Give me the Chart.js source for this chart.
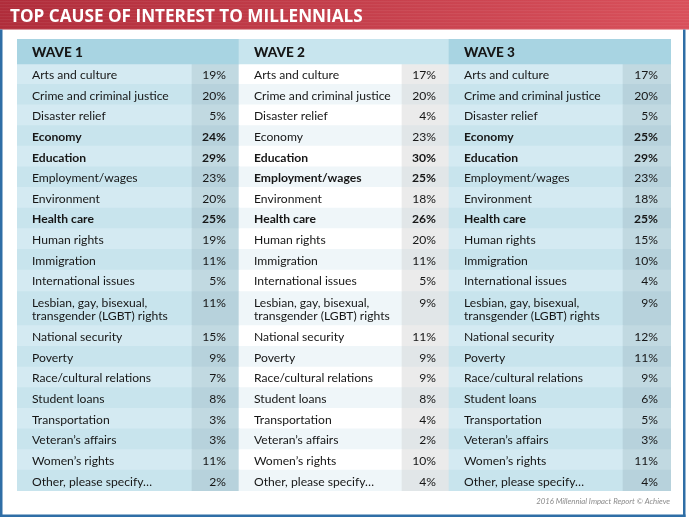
<!DOCTYPE html>
<html><head><meta charset="utf-8">
<script src="https://cdn.jsdelivr.net/npm/chart.js@4.4.1/dist/chart.umd.min.js"></script>
<style>html,body{margin:0;padding:0;background:#fff;}#wrap{position:relative;width:689px;height:517px;}</style>
</head><body><div id="wrap"><canvas id="c"></canvas></div>
<script>
// ---------- DATA ----------
const title = 'TOP CAUSE OF INTEREST TO MILLENNIALS';
const footer = '2016 Millennial Impact Report \u00A9 Achieve';
const waves = ['WAVE 1', 'WAVE 2', 'WAVE 3'];
const categories = ['Arts and culture', 'Crime and criminal justice', 'Disaster relief', 'Economy', 'Education',
  'Employment/wages', 'Environment', 'Health care', 'Human rights', 'Immigration', 'International issues',
  'Lesbian, gay, bisexual,\ntransgender (LGBT) rights', 'National security', 'Poverty', 'Race/cultural relations',
  'Student loans', 'Transportation', 'Veteran\u2019s affairs', 'Women\u2019s rights', 'Other, please specify\u2026'];
const wave1 = [19, 20, 5, 24, 29, 23, 20, 25, 19, 11, 5, 11, 15, 9, 7, 8, 3, 3, 11, 2];
const wave2 = [17, 20, 4, 23, 30, 25, 18, 26, 20, 11, 5, 9, 11, 9, 9, 8, 4, 2, 10, 4];
const wave3 = [17, 20, 5, 25, 29, 23, 18, 25, 15, 10, 4, 9, 12, 11, 9, 6, 5, 3, 11, 4];
const bold1 = ['Economy', 'Education', 'Health care'];
const bold2 = ['Education', 'Employment/wages', 'Health care'];
const bold3 = ['Economy', 'Education', 'Health care'];

// ---------- LAYOUT / STYLE ----------
const seriesValues = [wave1, wave2, wave3];
const seriesBold = [bold1, bold2, bold3];
const colWidths = [[175, 47], [163, 47], [174, 48]];
const PAD = {left: 17, right: 18, top: 39, bottom: 26};
const HEADER_U = 1.2, EXTRA_LINE_U = 0.7;
const pal = {
  dark: {head: '#a8d4e2', label: ['#d4eaf2', '#c8e4ed'], pct: ['#c1d9e1', '#b7d2dc']},
  light: {head: '#c8e5ee', label: ['#ffffff', '#eff6f9'], pct: ['#ebebeb', '#e1e6e8']}
};
const waveStyle = ['dark', 'light', 'dark'];
const TEXT = '#161616';

const lineCount = categories.map(c => c.split('\n').length);
const rowH = lineCount.map(n => 1 + (n - 1) * EXTRA_LINE_U);
const rowTop = [];
rowH.reduce((acc, h, i) => { rowTop[i] = acc; return acc + h; }, HEADER_U);
const totalU = HEADER_U + rowH.reduce((a, b) => a + b, 0);
const unitPx = (517 - PAD.top - PAD.bottom) / totalU;

const waveX = [];
colWidths.reduce((acc, [a, b], w) => { waveX[w] = [acc, acc + a, acc + a + b]; return acc + a + b; }, 0);
const totalX = waveX[2][2];

// build datasets grouped by row height
const groups = new Map();
function addBar(hU, x0, x1, yc, color) {
  if (!groups.has(hU)) groups.set(hU, {data: [], colors: []});
  const g = groups.get(hU);
  g.data.push({x: [x0, x1], y: yc});
  g.colors.push(color);
}
waves.forEach((w, wi) => addBar(HEADER_U, waveX[wi][0], waveX[wi][2], HEADER_U / 2, pal[waveStyle[wi]].head));
categories.forEach((c, ri) => {
  const yc = rowTop[ri] + rowH[ri] / 2;
  waves.forEach((w, wi) => {
    const p = pal[waveStyle[wi]];
    addBar(rowH[ri], waveX[wi][0], waveX[wi][1], yc, p.label[ri % 2]);
    addBar(rowH[ri], waveX[wi][1], waveX[wi][2], yc, p.pct[ri % 2]);
  });
});
const datasets = [...groups.entries()].map(([hU, g]) => ({
  data: g.data, backgroundColor: g.colors, borderWidth: 0, borderSkipped: false,
  barThickness: hU * unitPx + 0.4, stack: 'table', grouped: true
}));

function fitFont(ctx, weight, family, text, target) {
  ctx.font = `${weight} 20px ${family}`;
  return 20 * target / ctx.measureText(text).width;
}

const decor = {
  id: 'decor',
  beforeDraw(chart) {
    const ctx = chart.ctx, W = chart.width, H = chart.height;
    ctx.save();
    ctx.fillStyle = '#ffffff'; ctx.fillRect(0, 0, W, H);
    const g = ctx.createLinearGradient(0, 0, W, 0);
    g.addColorStop(0, '#b02c3a'); g.addColorStop(1, '#d9505b');
    ctx.fillStyle = g; ctx.fillRect(0, 0, W, 29.5);
    ctx.fillStyle = 'rgba(255,255,255,0.06)';
    for (let yy = 1; yy < 29; yy += 3) ctx.fillRect(0, yy, W, 1.2);
    ctx.fillStyle = '#2f6ea6';
    ctx.fillRect(0, 29.5, 2.5, H - 29.5);
    ctx.fillRect(683, 29.5, 2.5, H - 29.5);
    ctx.fillRect(0, 514.5, 685.5, 2.5);
    const fs = fitFont(ctx, 'bold', '"Open Sans"', title, 353);
    ctx.font = `bold ${fs}px "Open Sans"`;
    ctx.fillStyle = '#ffffff'; ctx.textBaseline = 'alphabetic'; ctx.textAlign = 'left';
    ctx.fillText(title, 10, 22);
    ctx.restore();
  },
  afterDatasetsDraw(chart) {
    const ctx = chart.ctx, xs = chart.scales.x, ys = chart.scales.y;
    ctx.save();
    ctx.fillStyle = TEXT;
    ctx.textBaseline = 'middle';
    const hs = fitFont(ctx, '900', 'Lato', 'WAVE 1', 51);
    ctx.font = `900 ${hs}px Lato`;
    ctx.textAlign = 'left';
    waves.forEach((w, wi) => ctx.fillText(w, xs.getPixelForValue(waveX[wi][0] + 15), ys.getPixelForValue(HEADER_U / 2) + 1));
    const fsz = fitFont(ctx, 'normal', 'Lato', 'Crime and criminal justice', 137);
    categories.forEach((c, ri) => {
      const lines = c.split('\n');
      waves.forEach((w, wi) => {
        const isBold = seriesBold[wi].includes(c);
        ctx.font = `${isBold ? 'bold' : 'normal'} ${fsz}px Lato`;
        const firstY = lines.length > 1 ? rowTop[ri] + 0.57 : rowTop[ri] + 0.5;
        ctx.textAlign = 'left';
        lines.forEach((ln, li) => ctx.fillText(ln, xs.getPixelForValue(waveX[wi][0] + 15), ys.getPixelForValue(firstY + li * 0.6) + 1));
        ctx.textAlign = 'right';
        ctx.fillText(seriesValues[wi][ri] + '%', xs.getPixelForValue(waveX[wi][2] - 13), ys.getPixelForValue(firstY) + 1);
      });
    });
    const ff = fitFont(ctx, 'italic', 'Lato', footer, 134);
    ctx.font = `italic ${ff}px Lato`;
    ctx.fillStyle = '#8a8a8a'; ctx.textAlign = 'right';
    ctx.fillText(footer, xs.getPixelForValue(totalX - 1), ys.getPixelForValue(totalU) + 10);
    ctx.restore();
  }
};

new Chart(document.getElementById('c'), {
  type: 'bar',
  data: {labels: [], datasets},
  options: {
    indexAxis: 'y', responsive: true, maintainAspectRatio: false, animation: false,
    layout: {padding: PAD},
    plugins: {legend: {display: false}, tooltip: {enabled: false}, title: {display: false}},
    scales: {
      x: {type: 'linear', min: 0, max: totalX, display: false, stacked: false},
      y: {type: 'linear', min: 0, max: totalU, reverse: true, display: false, offset: false}
    }
  },
  plugins: [decor]
});
</script></body></html>
